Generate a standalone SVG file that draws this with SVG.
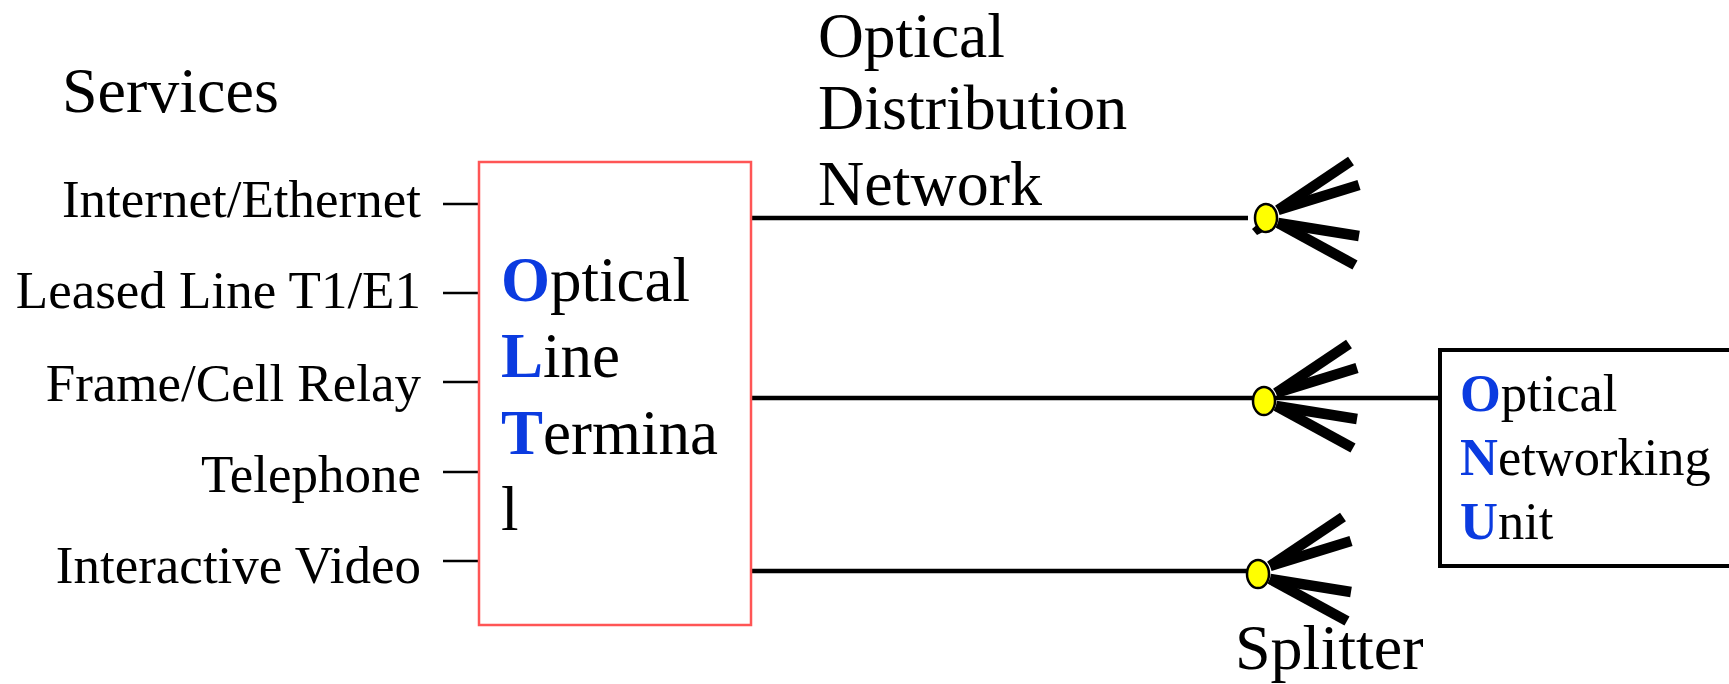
<svg xmlns="http://www.w3.org/2000/svg" width="1729" height="684" viewBox="0 0 1729 684">
<style>
text{font-family:"Liberation Serif","Times New Roman",serif;fill:#000}
.big{font-size:64px}
.olt{font-size:63px}
.svc{font-size:53px;text-anchor:end}
.onu{font-size:52.5px}
.b{font-weight:bold;fill:#0B3BE0}
.tick{stroke:#000;stroke-width:2.5}
.fib{stroke:#000;stroke-width:4.5;fill:none}
.fan{stroke:#000;stroke-width:10.5;stroke-linecap:butt}
.dot{fill:#FFFF00;stroke:#000;stroke-width:2.5}
</style>
<defs>
<g id="splitter">
<line class="fan" x1="12" y1="-8" x2="85" y2="-57"/>
<line class="fan" x1="12" y1="-8" x2="93" y2="-33"/>
<line class="fan" x1="12" y1="5" x2="93" y2="18"/>
<line class="fan" x1="12" y1="5" x2="89" y2="47"/>
<ellipse class="dot" cx="0" cy="0" rx="11" ry="14"/>
</g>
</defs>
<rect width="1729" height="684" fill="#fff"/>
<g id="services">
<text class="big" x="62" y="112">Services</text>
<text class="svc" x="421" y="217">Internet/Ethernet</text>
<text class="svc" x="421" y="308">Leased Line T1/E1</text>
<text class="svc" x="421" y="401">Frame/Cell Relay</text>
<text class="svc" x="421" y="492">Telephone</text>
<text class="svc" x="421" y="583">Interactive Video</text>
</g>
<g id="odn-label">
<text class="big" x="818" y="57" style="font-size:63.5px">Optical</text>
<text class="big" x="818" y="129">Distribution</text>
<text class="big" x="818" y="205">Network</text>
</g>
<g id="connectors">
<line class="tick" x1="443" y1="204" x2="479" y2="204"/>
<line class="tick" x1="443" y1="293" x2="479" y2="293"/>
<line class="tick" x1="443" y1="382" x2="479" y2="382"/>
<line class="tick" x1="443" y1="472" x2="479" y2="472"/>
<line class="tick" x1="443" y1="561" x2="479" y2="561"/>
<line class="fib" x1="751" y1="218" x2="1248" y2="218"/>
<line class="fib" x1="751" y1="398" x2="1440" y2="398"/>
<line class="fib" x1="751" y1="571" x2="1252" y2="571"/>
</g>
<g id="olt">
<rect x="479" y="162" width="272" height="463" fill="none" stroke="#FF5555" stroke-width="2.5"/>
<text class="olt" x="501" y="301"><tspan class="b">O</tspan>ptical</text>
<text class="olt" x="501" y="377"><tspan class="b">L</tspan>ine</text>
<text class="olt" x="501" y="454"><tspan class="b">T</tspan>ermina</text>
<text class="olt" x="501" y="530">l</text>
</g>
<g id="splitter-1">
<polygon points="1252,229 1259,223 1263,232 1257,235" fill="#000"/>
<use href="#splitter" x="1266" y="218"/>
</g>
<g id="splitter-2">
<use href="#splitter" x="1264" y="401"/>
</g>
<g id="splitter-3">
<use href="#splitter" x="1258" y="574"/>
<text class="big" x="1235" y="669">Splitter</text>
</g>
<g id="onu">
<rect x="1440" y="350" width="320" height="216" fill="none" stroke="#000" stroke-width="4"/>
<text class="onu" x="1460" y="411"><tspan class="b">O</tspan>ptical</text>
<text class="onu" x="1460" y="475"><tspan class="b">N</tspan>etworking</text>
<text class="onu" x="1460" y="539"><tspan class="b">U</tspan>nit</text>
</g>
</svg>
